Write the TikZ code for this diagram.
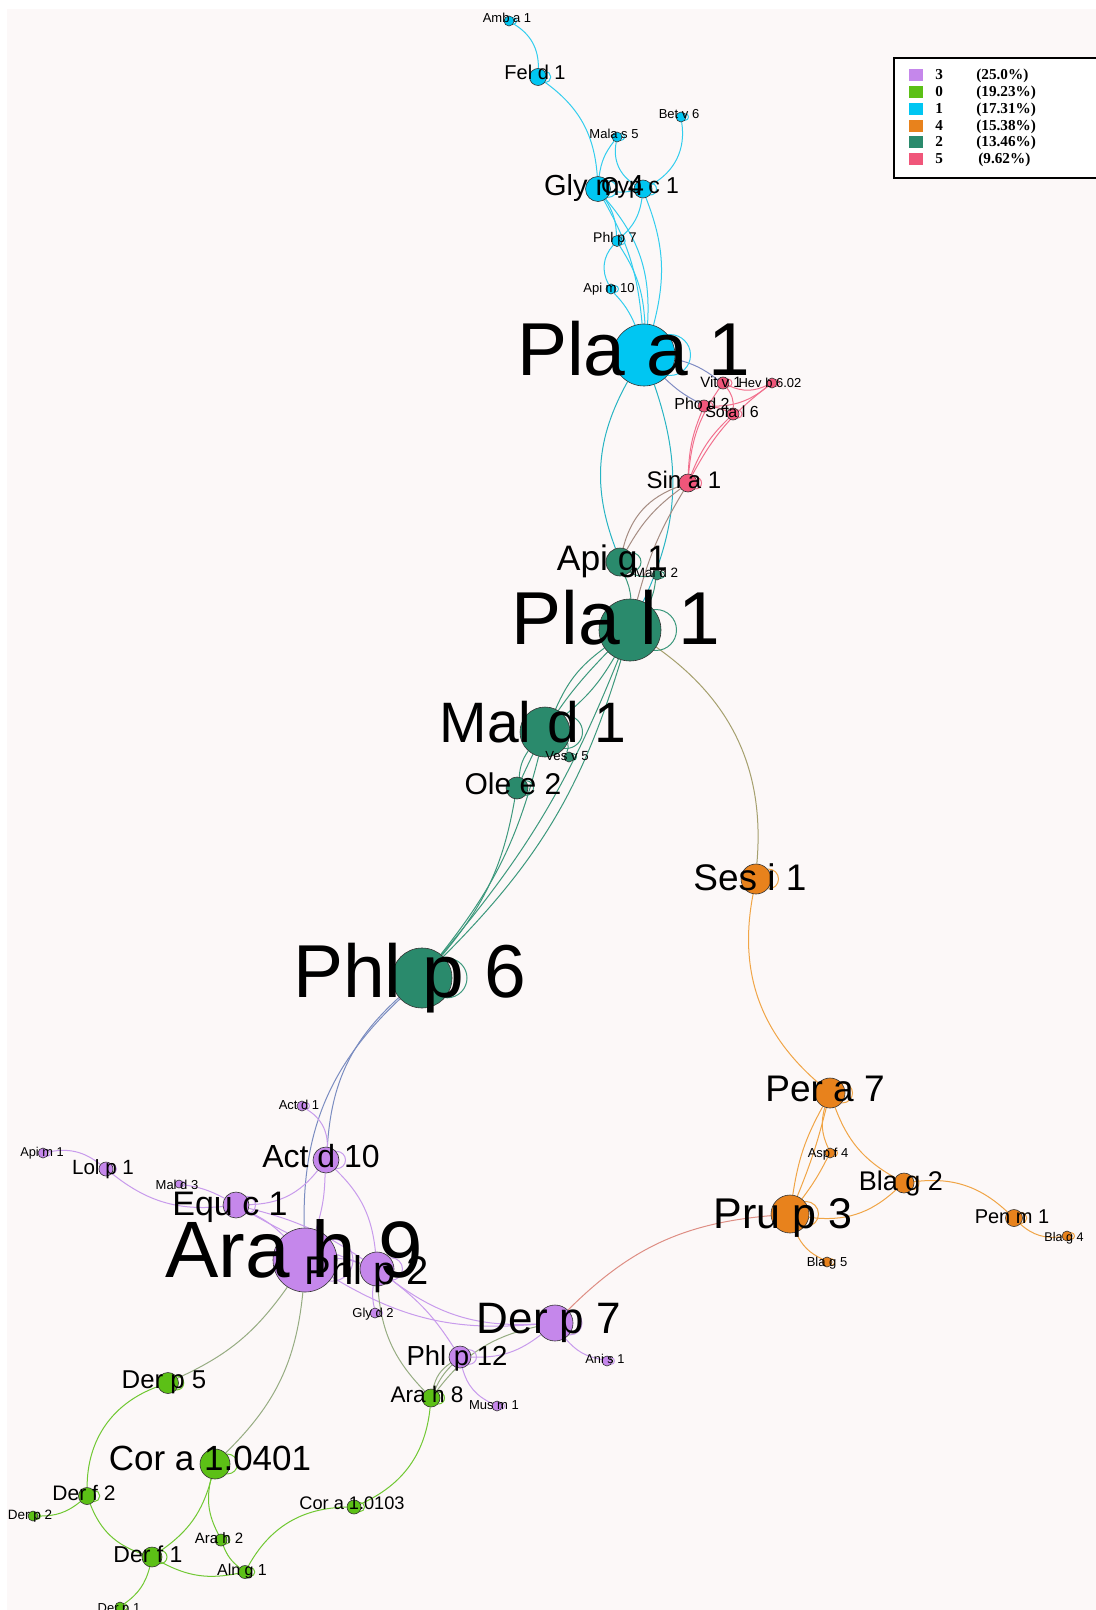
\documentclass[tikz,border=0pt]{standalone}
\usepackage{fontspec}
\setmainfont{Liberation Sans}
\newfontfamily\legfont{Liberation Serif}
\pgfdeclarelayer{back}
\pgfdeclarelayer{bg}
\pgfsetlayers{back,bg,main}
\definecolor{bgc}{RGB}{252,248,248}
\definecolor{cP}{RGB}{197,135,235}
\definecolor{cG}{RGB}{92,192,22}
\definecolor{cC}{RGB}{0,198,242}
\definecolor{cO}{RGB}{232,130,28}
\definecolor{cT}{RGB}{42,138,108}
\definecolor{cR}{RGB}{240,86,122}
\definecolor{eC}{RGB}{50,205,238}
\definecolor{eT}{RGB}{60,152,124}
\definecolor{eO}{RGB}{240,165,70}
\definecolor{eP}{RGB}{200,155,236}
\definecolor{eG}{RGB}{112,200,50}
\definecolor{eR}{RGB}{242,112,142}
\definecolor{eCR}{RGB}{128,140,195}
\definecolor{eCT}{RGB}{40,180,195}
\definecolor{eRT}{RGB}{165,140,130}
\definecolor{eTO}{RGB}{165,160,110}
\definecolor{eOP}{RGB}{222,142,132}
\definecolor{eTP}{RGB}{122,140,192}
\definecolor{ePG}{RGB}{150,172,130}
\tikzset{
  vtx/.style={circle, draw=black!80, line width=0.3pt, inner sep=0pt, fill=#1},
  lbl/.style={anchor=base, inner sep=0pt, text=black},
  ed/.style={line width=0.5pt, draw=#1},
  legtxt/.style={anchor=base west, inner sep=0pt, font=\legfont\bfseries\fontsize{7.6}{8}\selectfont}
}
\newcommand{\V}[5]{\node[vtx=#5, minimum size=#4 pt] (#1) at (#2,#3) {};}
\newcommand{\Lp}[3]{\draw[ed=#3] ([xshift=#2*0.42pt]#1.center) circle[radius=#2*0.33pt];}
\newcommand{\Lb}[5]{\node[lbl, font=\fontsize{#4}{#4}\selectfont] (#1) at (#2,#3) {#5};}
\newcommand{\E}[4]{\draw[ed=#4] (#1) to[#3] (#2);}
\begin{document}
\begin{tikzpicture}[x=0.5pt,y=-0.5pt]
\useasboundingbox (0,0) rectangle (1096,1610);
\begin{pgfonlayer}{back}
\fill[bgc] (7,9) rectangle (1096,1610);
\end{pgfonlayer}
% ---------------- nodes ----------------
% cluster 1 (cyan)
\V{amba1}{509}{21}{5}{cC}
\V{feld1}{538}{77}{8.5}{cC}
\V{betv6}{681}{117}{5}{cC}
\V{malas5}{617}{137}{5}{cC}
\V{glym4}{598}{189}{12.5}{cC}
\V{cypc1}{643}{189}{9}{cC}
\V{phlp7}{617}{241}{5.5}{cC}
\V{apim10}{611}{289}{5}{cC}
\V{plaa1}{644}{355}{31}{cC}
% cluster 5 (pink)
\V{vitv1}{723}{383}{6}{cR}
\V{hevb602}{772}{383}{5}{cR}
\V{phod2}{704}{406}{6}{cR}
\V{solal6}{733}{414}{6}{cR}
\V{sina1}{688}{483}{9}{cR}
% cluster 2 (teal)
\V{apig1}{620}{562}{14}{cT}
\V{mald2}{657}{575}{5}{cT}
\V{plal1}{630}{630}{31}{cT}
\V{mald1}{545}{732}{25}{cT}
\V{vesv5}{569}{757}{5}{cT}
\V{olee2}{517}{788}{11}{cT}
\V{phlp6}{422}{978}{30}{cT}
% cluster 4 (orange)
\V{sesi1}{756}{879}{15}{cO}
\V{pera7}{830}{1093}{15}{cO}
\V{aspf4}{830}{1153}{5}{cO}
\V{blag2}{904}{1183}{10}{cO}
\V{prup3}{790}{1214}{19}{cO}
\V{penm1}{1014}{1218}{8.5}{cO}
\V{blag4}{1067}{1236}{5}{cO}
\V{blag5}{827}{1262}{5}{cO}
% cluster 3 (purple)
\V{actd1}{302}{1106}{5}{cP}
\V{apim1}{43}{1153}{5}{cP}
\V{lolp1}{106}{1169}{7}{cP}
\V{actd10}{326}{1160}{13}{cP}
\V{mald3}{179}{1184}{4}{cP}
\V{equc1}{236}{1205}{13}{cP}
\V{arah9}{305}{1260}{32}{cP}
\V{phlp2}{377}{1269}{17}{cP}
\V{glyd2}{375}{1313}{5}{cP}
\V{derp7}{555}{1323}{18}{cP}
\V{phlp12}{460}{1357}{11}{cP}
\V{anis1}{607}{1361}{5}{cP}
\V{musm1}{497}{1406}{5}{cP}
% cluster 0 (green)
\V{arah8}{431}{1398}{9}{cG}
\V{derp5}{168}{1383}{10.5}{cG}
\V{cora10401}{215}{1464}{15}{cG}
\V{derf2}{87}{1496}{8.5}{cG}
\V{derp2}{33}{1516}{5}{cG}
\V{cora10103}{354}{1507}{7}{cG}
\V{arah2}{221}{1540}{6}{cG}
\V{derf1}{152}{1557}{10}{cG}
\V{alng1}{245}{1572}{6.5}{cG}
\V{derp1}{120}{1607}{5}{cG}
% ---------------- edges ----------------
\begin{pgfonlayer}{bg}
% cyan
\E{amba1}{feld1}{bend left=30}{eC}
\E{feld1}{glym4}{bend left=25}{eC}
\E{malas5}{glym4}{bend right=15}{eC}
\E{malas5}{cypc1}{bend right=35}{eC}
\E{betv6}{cypc1}{bend left=35}{eC}
\E{glym4}{cypc1}{bend right=10}{eC}
\E{cypc1}{phlp7}{bend left=20}{eC}
\E{glym4}{phlp7}{bend left=15}{eC}
\E{phlp7}{apim10}{bend right=35}{eC}
\E{apim10}{plaa1}{bend left=10}{eC}
\E{phlp7}{plaa1}{bend left=15}{eC}
\E{glym4}{plaa1}{bend left=12}{eC}
\E{glym4}{plaa1}{bend left=22}{eC}
\E{cypc1}{plaa1}{bend left=18}{eC}
\E{plaa1}{apig1}{bend right=25}{eCT}
\E{plaa1}{plal1}{bend left=22}{eCT}
\E{plaa1}{vitv1}{bend left=12}{eCR}
\E{plaa1}{phod2}{bend right=8}{eCR}
% pink
\E{vitv1}{hevb602}{bend right=25}{eR}
\E{phod2}{hevb602}{bend right=20}{eR}
\E{vitv1}{solal6}{bend left=20}{eR}
\E{phod2}{solal6}{bend left=10}{eR}
\E{sina1}{vitv1}{bend left=15}{eR}
\E{sina1}{phod2}{bend left=10}{eR}
\E{sina1}{solal6}{bend left=12}{eR}
\E{sina1}{hevb602}{bend left=12}{eR}
% pink-teal
\E{sina1}{apig1}{bend right=12}{eRT}
\E{sina1}{apig1}{bend right=28}{eRT}
\E{sina1}{plal1}{bend right=8}{eRT}
% teal
\E{apig1}{plal1}{bend left=10}{eT}
\E{apig1}{mald2}{bend right=25}{eT}
\E{mald2}{plal1}{bend left=10}{eT}
\E{plal1}{mald1}{bend left=10}{eT}
\E{plal1}{mald1}{bend right=15}{eT}
\E{plal1}{olee2}{bend right=10}{eT}
\E{plal1}{phlp6}{bend left=14}{eT}
\E{plal1}{phlp6}{bend left=9}{eT}
\E{mald1}{vesv5}{bend left=20}{eT}
\E{mald1}{olee2}{bend right=15}{eT}
\E{mald1}{phlp6}{bend left=12}{eT}
\E{olee2}{phlp6}{bend left=15}{eT}
\E{plal1}{sesi1}{bend left=30}{eTO}
% orange
\E{sesi1}{pera7}{bend right=30}{eO}
\E{pera7}{prup3}{bend right=10}{eO}
\E{pera7}{prup3}{bend left=4}{eO}
\E{pera7}{aspf4}{bend right=20}{eO}
\E{aspf4}{prup3}{bend left=5}{eO}
\E{pera7}{blag2}{bend right=20}{eO}
\E{prup3}{blag2}{bend right=25}{eO}
\E{blag2}{penm1}{bend left=25}{eO}
\E{penm1}{blag4}{bend right=25}{eO}
\E{prup3}{blag5}{bend right=20}{eO}
\E{prup3}{derp7}{bend right=20}{eOP}
% teal-purple
\E{phlp6}{arah9}{bend right=24}{eTP}
\E{phlp6}{actd10}{bend right=22}{eTP}
% purple
\E{apim1}{lolp1}{bend left=25}{eP}
\E{lolp1}{equc1}{bend right=22}{eP}
\E{mald3}{equc1}{bend left=10}{eP}
\E{equc1}{actd10}{bend right=25}{eP}
\E{equc1}{phlp2}{bend left=10}{eP}
\E{equc1}{phlp2}{bend right=5}{eP}
\E{equc1}{arah9}{bend left=10}{eP}
\E{actd1}{actd10}{bend left=30}{eP}
\E{actd10}{arah9}{bend left=8}{eP}
\E{actd10}{phlp2}{bend left=20}{eP}
\E{arah9}{phlp2}{bend left=10}{eP}
\E{phlp2}{derp7}{bend right=20}{eP}
\E{arah9}{derp7}{bend right=18}{eP}
\E{phlp2}{phlp12}{bend left=10}{eP}
\E{phlp2}{glyd2}{bend right=10}{eP}
\E{phlp12}{derp7}{bend right=20}{eP}
\E{phlp12}{musm1}{bend right=25}{eP}
\E{derp7}{anis1}{bend right=20}{eP}
% purple-green
\E{arah8}{phlp12}{bend left=10}{ePG}
\E{arah8}{phlp12}{bend left=22}{ePG}
\E{arah8}{derp7}{bend left=20}{ePG}
\E{phlp2}{arah8}{bend right=20}{ePG}
\E{arah9}{derp5}{bend left=15}{ePG}
\E{arah9}{cora10401}{bend left=20}{ePG}
% green
\E{derp5}{derf2}{bend right=35}{eG}
\E{derf2}{derp2}{bend left=20}{eG}
\E{derf2}{derf1}{bend right=25}{eG}
\E{derf1}{cora10401}{bend right=20}{eG}
\E{cora10401}{arah2}{bend right=20}{eG}
\E{arah2}{alng1}{bend right=15}{eG}
\E{derf1}{alng1}{bend right=20}{eG}
\E{alng1}{cora10103}{bend left=30}{eG}
\E{cora10103}{arah8}{bend right=30}{eG}
\E{derf1}{derp1}{bend left=20}{eG}
% self loops
\Lp{amba1}{5}{eC}\Lp{feld1}{8.5}{eC}\Lp{betv6}{5}{eC}\Lp{malas5}{5}{eC}
\Lp{glym4}{12.5}{eC}\Lp{cypc1}{9}{eC}\Lp{phlp7}{5.5}{eC}\Lp{apim10}{5}{eC}
\Lp{plaa1}{31}{eC}
\Lp{vitv1}{6}{eR}\Lp{hevb602}{5}{eR}\Lp{phod2}{6}{eR}\Lp{solal6}{6}{eR}\Lp{sina1}{9}{eR}
\Lp{apig1}{14}{eT}\Lp{mald2}{5}{eT}\Lp{plal1}{31}{eT}\Lp{mald1}{25}{eT}
\Lp{vesv5}{5}{eT}\Lp{olee2}{11}{eT}\Lp{phlp6}{30}{eT}
\Lp{sesi1}{15}{eO}\Lp{pera7}{15}{eO}\Lp{aspf4}{5}{eO}\Lp{blag2}{10}{eO}
\Lp{prup3}{19}{eO}\Lp{penm1}{8.5}{eO}\Lp{blag4}{5}{eO}\Lp{blag5}{5}{eO}
\Lp{actd1}{5}{eP}\Lp{apim1}{5}{eP}\Lp{lolp1}{7}{eP}\Lp{actd10}{13}{eP}
\Lp{mald3}{4}{eP}\Lp{equc1}{13}{eP}\Lp{arah9}{32}{eP}\Lp{phlp2}{17}{eP}
\Lp{glyd2}{5}{eP}\Lp{derp7}{18}{eP}\Lp{phlp12}{11}{eP}\Lp{anis1}{5}{eP}\Lp{musm1}{5}{eP}
\Lp{arah8}{9}{eG}\Lp{derp5}{10.5}{eG}\Lp{cora10401}{15}{eG}\Lp{derf2}{8.5}{eG}
\Lp{derp2}{5}{eG}\Lp{cora10103}{7}{eG}\Lp{arah2}{6}{eG}\Lp{derf1}{10}{eG}
\Lp{alng1}{6.5}{eG}\Lp{derp1}{5}{eG}
\end{pgfonlayer}
% ---------------- labels ----------------
\Lb{l-amba1}{507}{23}{6.5}{Amb a 1}
\Lb{l-feld1}{535}{80}{10}{Fel d 1}
\Lb{l-betv6}{679}{119}{6.5}{Bet v 6}
\Lb{l-malas5}{614}{139}{6.5}{Mala s 5}
\Lb{l-glym4}{594}{196}{14.5}{Gly m 4}
\Lb{l-cypc1}{640}{194}{11.5}{Cyp c 1}
\Lb{l-phlp7}{615}{243}{7}{Phl p 7}
\Lb{l-apim10}{609}{293}{6.5}{Api m 10}
\Lb{l-plaa1}{634}{375}{37.5}{Pla a 1}
\Lb{l-vitv1}{721}{387}{7.5}{Vit v 1}
\Lb{l-hevb602}{770}{387}{6.5}{Hev b 6.02}
\Lb{l-phod2}{702}{409}{8}{Pho d 2}
\Lb{l-solal6}{732}{417}{8}{Sola l 6}
\Lb{l-sina1}{684}{488}{12}{Sin a 1}
\Lb{l-apig1}{612}{570}{17.7}{Api g 1}
\Lb{l-mald2}{656}{577}{6.75}{Mal d 2}
\Lb{l-plal1}{616}{644}{37.5}{Pla l 1}
\Lb{l-mald1}{533}{742}{28.5}{Mal d 1}
\Lb{l-vesv5}{567}{760}{6.6}{Ves v 5}
\Lb{l-olee2}{513}{794}{15}{Ole e 2}
\Lb{l-phlp6}{410}{997}{37.5}{Phl p 6}
\Lb{l-sesi1}{750}{890}{18.5}{Ses i 1}
\Lb{l-pera7}{825}{1101}{18.5}{Per a 7}
\Lb{l-aspf4}{828}{1157}{6.5}{Asp f 4}
\Lb{l-blag2}{901}{1190}{13.5}{Bla g 2}
\Lb{l-prup3}{783}{1228}{21.5}{Pru p 3}
\Lb{l-penm1}{1012}{1223}{10}{Pen m 1}
\Lb{l-blag4}{1064}{1241}{6.3}{Bla g 4}
\Lb{l-blag5}{827}{1266}{6.5}{Bla g 5}
\Lb{l-actd1}{299}{1109}{6.5}{Act d 1}
\Lb{l-apim1}{42}{1156}{6.4}{Api m 1}
\Lb{l-lolp1}{103}{1174}{10.3}{Lol p 1}
\Lb{l-actd10}{321}{1167}{16}{Act d 10}
\Lb{l-mald3}{177}{1189}{6.5}{Mal d 3}
\Lb{l-equc1}{230}{1215}{17}{Equ c 1}
\Lb{l-arah9}{294}{1277}{40}{Ara h 9}
\Lb{l-phlp2}{367}{1284}{20}{Phl p 2}
\Lb{l-glyd2}{373}{1317}{6.5}{Gly d 2}
\Lb{l-derp7}{549}{1333}{22}{Der p 7}
\Lb{l-phlp12}{457}{1365}{13.75}{Phl p 12}
\Lb{l-anis1}{605}{1363}{6.4}{Ani s 1}
\Lb{l-musm1}{494}{1409}{6.5}{Mus m 1}
\Lb{l-arah8}{427}{1402}{11.3}{Ara h 8}
\Lb{l-derp5}{164}{1388}{12.9}{Der p 5}
\Lb{l-cora10401}{210}{1470}{17.5}{Cor a 1.0401}
\Lb{l-derf2}{84}{1500}{10.5}{Der f 2}
\Lb{l-derp2}{30}{1519}{6.75}{Der p 2}
\Lb{l-cora10103}{352}{1509}{9.1}{Cor a 1.0103}
\Lb{l-arah2}{219}{1543}{7.5}{Ara h 2}
\Lb{l-derf1}{148}{1562}{11.5}{Der f 1}
\Lb{l-alng1}{242}{1575}{8}{Aln g 1}
\Lb{l-derp1}{119}{1612}{6.5}{Der p 1}
% ---------------- legend ----------------
\draw[line width=0.9pt, fill=white] (894,58) rectangle (1097,178);
\fill[cP] (909,69) rectangle (923,81);
\fill[cG] (909,86) rectangle (923,98);
\fill[cC] (909,103) rectangle (923,115);
\fill[cO] (909,120) rectangle (923,132);
\fill[cT] (909,136) rectangle (923,148);
\fill[cR] (909,153) rectangle (923,165);
\node[legtxt] (g1) at (935,80) {3};  \node[legtxt] (p1) at (976,80) {(25.0\%)};
\node[legtxt] (g2) at (935,97) {0};  \node[legtxt] (p2) at (976,97) {(19.23\%)};
\node[legtxt] (g3) at (935,114) {1}; \node[legtxt] (p3) at (976,114) {(17.31\%)};
\node[legtxt] (g4) at (935,131) {4}; \node[legtxt] (p4) at (976,131) {(15.38\%)};
\node[legtxt] (g5) at (935,147) {2}; \node[legtxt] (p5) at (976,147) {(13.46\%)};
\node[legtxt] (g6) at (935,164) {5}; \node[legtxt] (p6) at (978,164) {(9.62\%)};
\end{tikzpicture}
\end{document}
